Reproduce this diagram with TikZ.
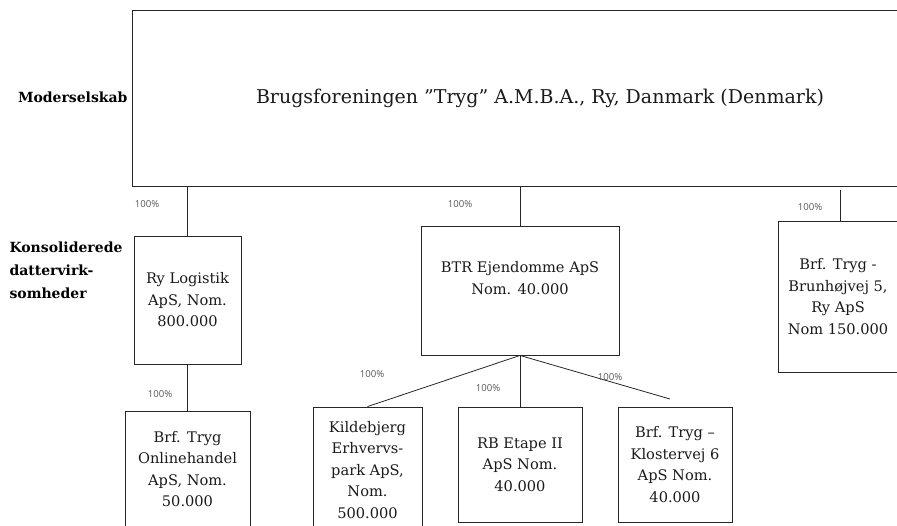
\documentclass[tikz,border=0pt]{standalone}
\usepackage{fontspec}
\setmainfont{DejaVu Serif}
\newfontfamily\pctfont{Open Sans}
\usetikzlibrary{positioning, calc}
\definecolor{lineblk}{HTML}{262626}
\definecolor{txtblk}{HTML}{1A1A1A}
\definecolor{pctgray}{HTML}{555555}

\tikzset{
  company/.style={draw=lineblk, line width=0.9pt, align=center, inner sep=0pt,
    text=txtblk, font=\fontsize{14.6}{21.5}\selectfont},
  tier/.style={font=\bfseries\fontsize{14}{23}\selectfont, align=left},
  pct/.style={text=pctgray, font=\pctfont\fontsize{9.6}{11}\selectfont},
  own/.style={draw=lineblk, line width=0.8pt}
}

\begin{document}
\begin{tikzpicture}[x=1pt, y=-1pt]

\useasboundingbox (0,0) rectangle (897,525);
\clip (0,0) rectangle (897,525);

% Parent company
\node[company, minimum width=776pt, minimum height=176pt,
  font=\fontsize{19}{23}\selectfont] (parent) at (520,98)
  {\hspace*{40pt}Brugsforeningen "Tryg" A.M.B.A., Ry, Danmark (Denmark)};
\node[tier, anchor=east] (lblparent) at (131,97) {Moderselskab};
\node[tier, anchor=north west] (lblsubs) at (6,238) {Konsoliderede\\dattervirk-\\somheder};

% First level subsidiaries
\node[company, minimum width=107pt, minimum height=128pt] (rylog) at (187.5,300)
  {Ry Logistik\\ApS, Nom.\\800.000};
\node[company, minimum width=198pt, minimum height=129pt] (btr) at (520,290.5)
  {BTR Ejendomme ApS\\Nom. 40.000\\[4pt]};
\node[company, minimum width=120pt, minimum height=151pt] (brun) at (838,296.5)
  {Brf. Tryg -\\Brunhøjvej 5,\\Ry ApS\\Nom 150.000};

% Second level subsidiaries
\node[company, minimum width=125pt, minimum height=116pt] (online) at (187.5,469)
  {Brf. Tryg\\Onlinehandel\\ApS, Nom.\\50.000};
\node[company, minimum width=109pt, minimum height=126pt] (kilde) at (367.5,470)
  {Kildebjerg\\Erhvervs-\\park ApS,\\Nom.\\500.000};
\node[company, minimum width=124pt, minimum height=115pt] (rbetape) at (520,464.5)
  {RB Etape II\\ApS Nom.\\40.000};
\node[company, minimum width=114pt, minimum height=115pt] (kloster) at (675,464.5)
  {Brf. Tryg --\\Klostervej 6\\ApS Nom.\\40.000};
\coordinate (klend) at (670,399);

% Ownership lines
\draw[own] (parent.south -| rylog.north) -- (rylog.north);
\draw[own] (parent.south -| btr.north) -- (btr.north);
\draw[own] ($(parent.south -| 840,0)+(0,4)$) -- (brun.north -| 840,0);
\draw[own] (rylog.south) -- (online.north);
\draw[own] (btr.south) -- (kilde.north);
\draw[own] (btr.south) -- (rbetape.north);
\draw[own] (btr.south) -- (klend);

% Percentages
\node[pct] (p1) at (147,204) {100\%};
\node[pct] (p2) at (460,204) {100\%};
\node[pct] (p3) at (810,207) {100\%};
\node[pct] (p4) at (160,394) {100\%};
\node[pct] (p5) at (372,374) {100\%};
\node[pct] (p6) at (488,388) {100\%};
\node[pct] (p7) at (610,377) {100\%};

\end{tikzpicture}
\end{document}
